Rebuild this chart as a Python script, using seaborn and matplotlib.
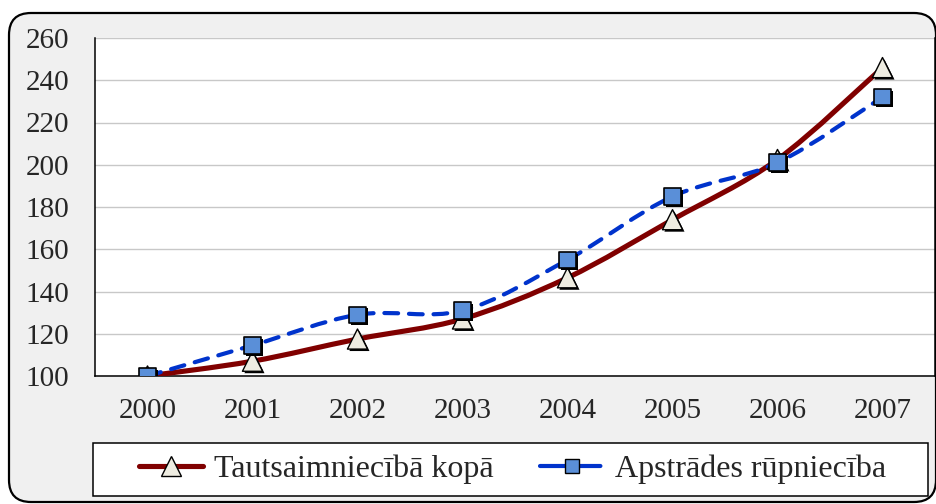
import numpy as np
import pandas as pd
import matplotlib
matplotlib.use('Agg')
import matplotlib.pyplot as plt
import seaborn as sns
from matplotlib.path import Path
from matplotlib.patches import PathPatch, FancyBboxPatch, Rectangle
from matplotlib.lines import Line2D
import matplotlib.patheffects as pe

# data
years = ['2000', '2001', '2002', '2003', '2004', '2005', '2006', '2007']
total = [100, 107, 117.5, 127, 146.5, 174, 202.5, 246]
manufacturing = [100, 114.5, 129, 131, 155, 185, 201, 232]
series_names = ['Tautsaimniecībā kopā', 'Apstrādes rūpniecība']
y_ticks = [100, 120, 140, 160, 180, 200, 220, 240, 260]

red = '#800000'
blue = '#0033cc'
tri_fill = '#eeece1'
sq_fill = '#5a8fd8'

sns.set_style('white')
plt.rcParams['font.family'] = ['Liberation Serif', 'DejaVu Serif']


def smooth_path(xs, ys):
    # Excel-style smoothed line: cubic bezier segments through each point
    pts = np.column_stack([xs, ys]).astype(float)
    ext = np.vstack([pts[0], pts, pts[-1]])
    verts = [pts[0]]
    codes = [Path.MOVETO]
    for i in range(len(pts) - 1):
        p0, p1, p2, p3 = ext[i], ext[i + 1], ext[i + 2], ext[i + 3]
        c1 = p1 + (p2 - p0) / 6
        c2 = p2 - (p3 - p1) / 6
        verts += [c1, c2, p2]
        codes += [Path.CURVE4] * 3
    return Path(verts, codes)


fig = plt.figure(figsize=(9.37, 5.04), dpi=100, facecolor='white')

# rounded outer chart border (pixel coordinates)
frame = FancyBboxPatch((9, 2), 927, 489, boxstyle='round,pad=0,rounding_size=22',
                       facecolor='#f0f0f0', edgecolor='black', linewidth=1.6,
                       transform=None, zorder=0)
fig.add_artist(frame)

ax = fig.add_axes([95 / 937, 128 / 504, 840 / 937, 338 / 504])
ax.set_facecolor('white')

pos = np.arange(len(years))
df = pd.DataFrame({'pos': pos, 'year': years, 'total': total, 'manufacturing': manufacturing})

ax.add_patch(PathPatch(smooth_path(df['pos'], df['total']), facecolor='none',
                       edgecolor=red, linewidth=3.7, capstyle='round', zorder=3))
ax.add_patch(PathPatch(smooth_path(df['pos'], df['manufacturing']), facecolor='none',
                       edgecolor=blue, linewidth=3.0, linestyle=(0, (3.3, 2.6)),
                       capstyle='round', zorder=4))

shadow = [pe.SimplePatchShadow(offset=(1.4, -1.4), shadow_rgbFace='black', alpha=1.0), pe.Normal()]
sns.scatterplot(data=df, x='pos', y='total', marker='^', s=210, color=tri_fill,
                edgecolor='black', linewidth=1.0, zorder=5, ax=ax, path_effects=shadow)
sns.scatterplot(data=df, x='pos', y='manufacturing', marker='s', s=140, color=sq_fill,
                edgecolor='black', linewidth=1.2, zorder=6, ax=ax, path_effects=shadow)

ax.set_xlim(-0.5, len(years) - 0.5)
ax.set_ylim(100, 260)
ax.set_yticks(y_ticks)
ax.set_yticklabels([str(v) for v in y_ticks], fontsize=21)
ax.set_xticks(np.arange(-0.5, len(years), 1))
ax.set_xticklabels([])
ax.set_xticks(pos, minor=True)
ax.set_xticklabels(years, minor=True, fontsize=21)
ax.tick_params(axis='x', which='major', direction='inout', length=12, width=1, color='black')
ax.tick_params(axis='x', which='minor', length=0, pad=16)
ax.tick_params(axis='y', direction='out', length=6.5, width=1, color='black', pad=12)
ax.set_xlabel('')
ax.set_ylabel('')

ax.grid(axis='y', color='#c8c8c8', linewidth=1.0)
ax.set_axisbelow(True)
for side in ['left', 'bottom', 'right']:
    ax.spines[side].set_visible(True)
    ax.spines[side].set_color('black')
    ax.spines[side].set_linewidth(1.1)
ax.spines['top'].set_visible(False)

# legend box drawn separately so the entries can stay centred in a wide frame
fig.add_artist(Rectangle((93, 8), 835, 53, facecolor='white', edgecolor='black',
                         linewidth=1.1, transform=None, zorder=1))
handles = [
    Line2D([], [], color=red, linewidth=3.7, marker='^', markersize=14,
           markerfacecolor=tri_fill, markeredgecolor='black', solid_capstyle='round'),
    Line2D([], [], color=blue, linewidth=3.0, linestyle=(0, (6, 2.5)), marker='s', markersize=10,
           markerfacecolor=sq_fill, markeredgecolor='black', dash_capstyle='round'),
]
leg = fig.legend(handles, series_names, loc='center', ncol=2, fontsize=23,
                 bbox_to_anchor=(513 / 937, 1 - 469.5 / 504), frameon=False,
                 handlelength=2.0, handletextpad=0.35, columnspacing=1.45,
                 borderpad=0, borderaxespad=0)
leg.set_zorder(2)

fig.savefig('out.png', dpi=100, facecolor='white')
